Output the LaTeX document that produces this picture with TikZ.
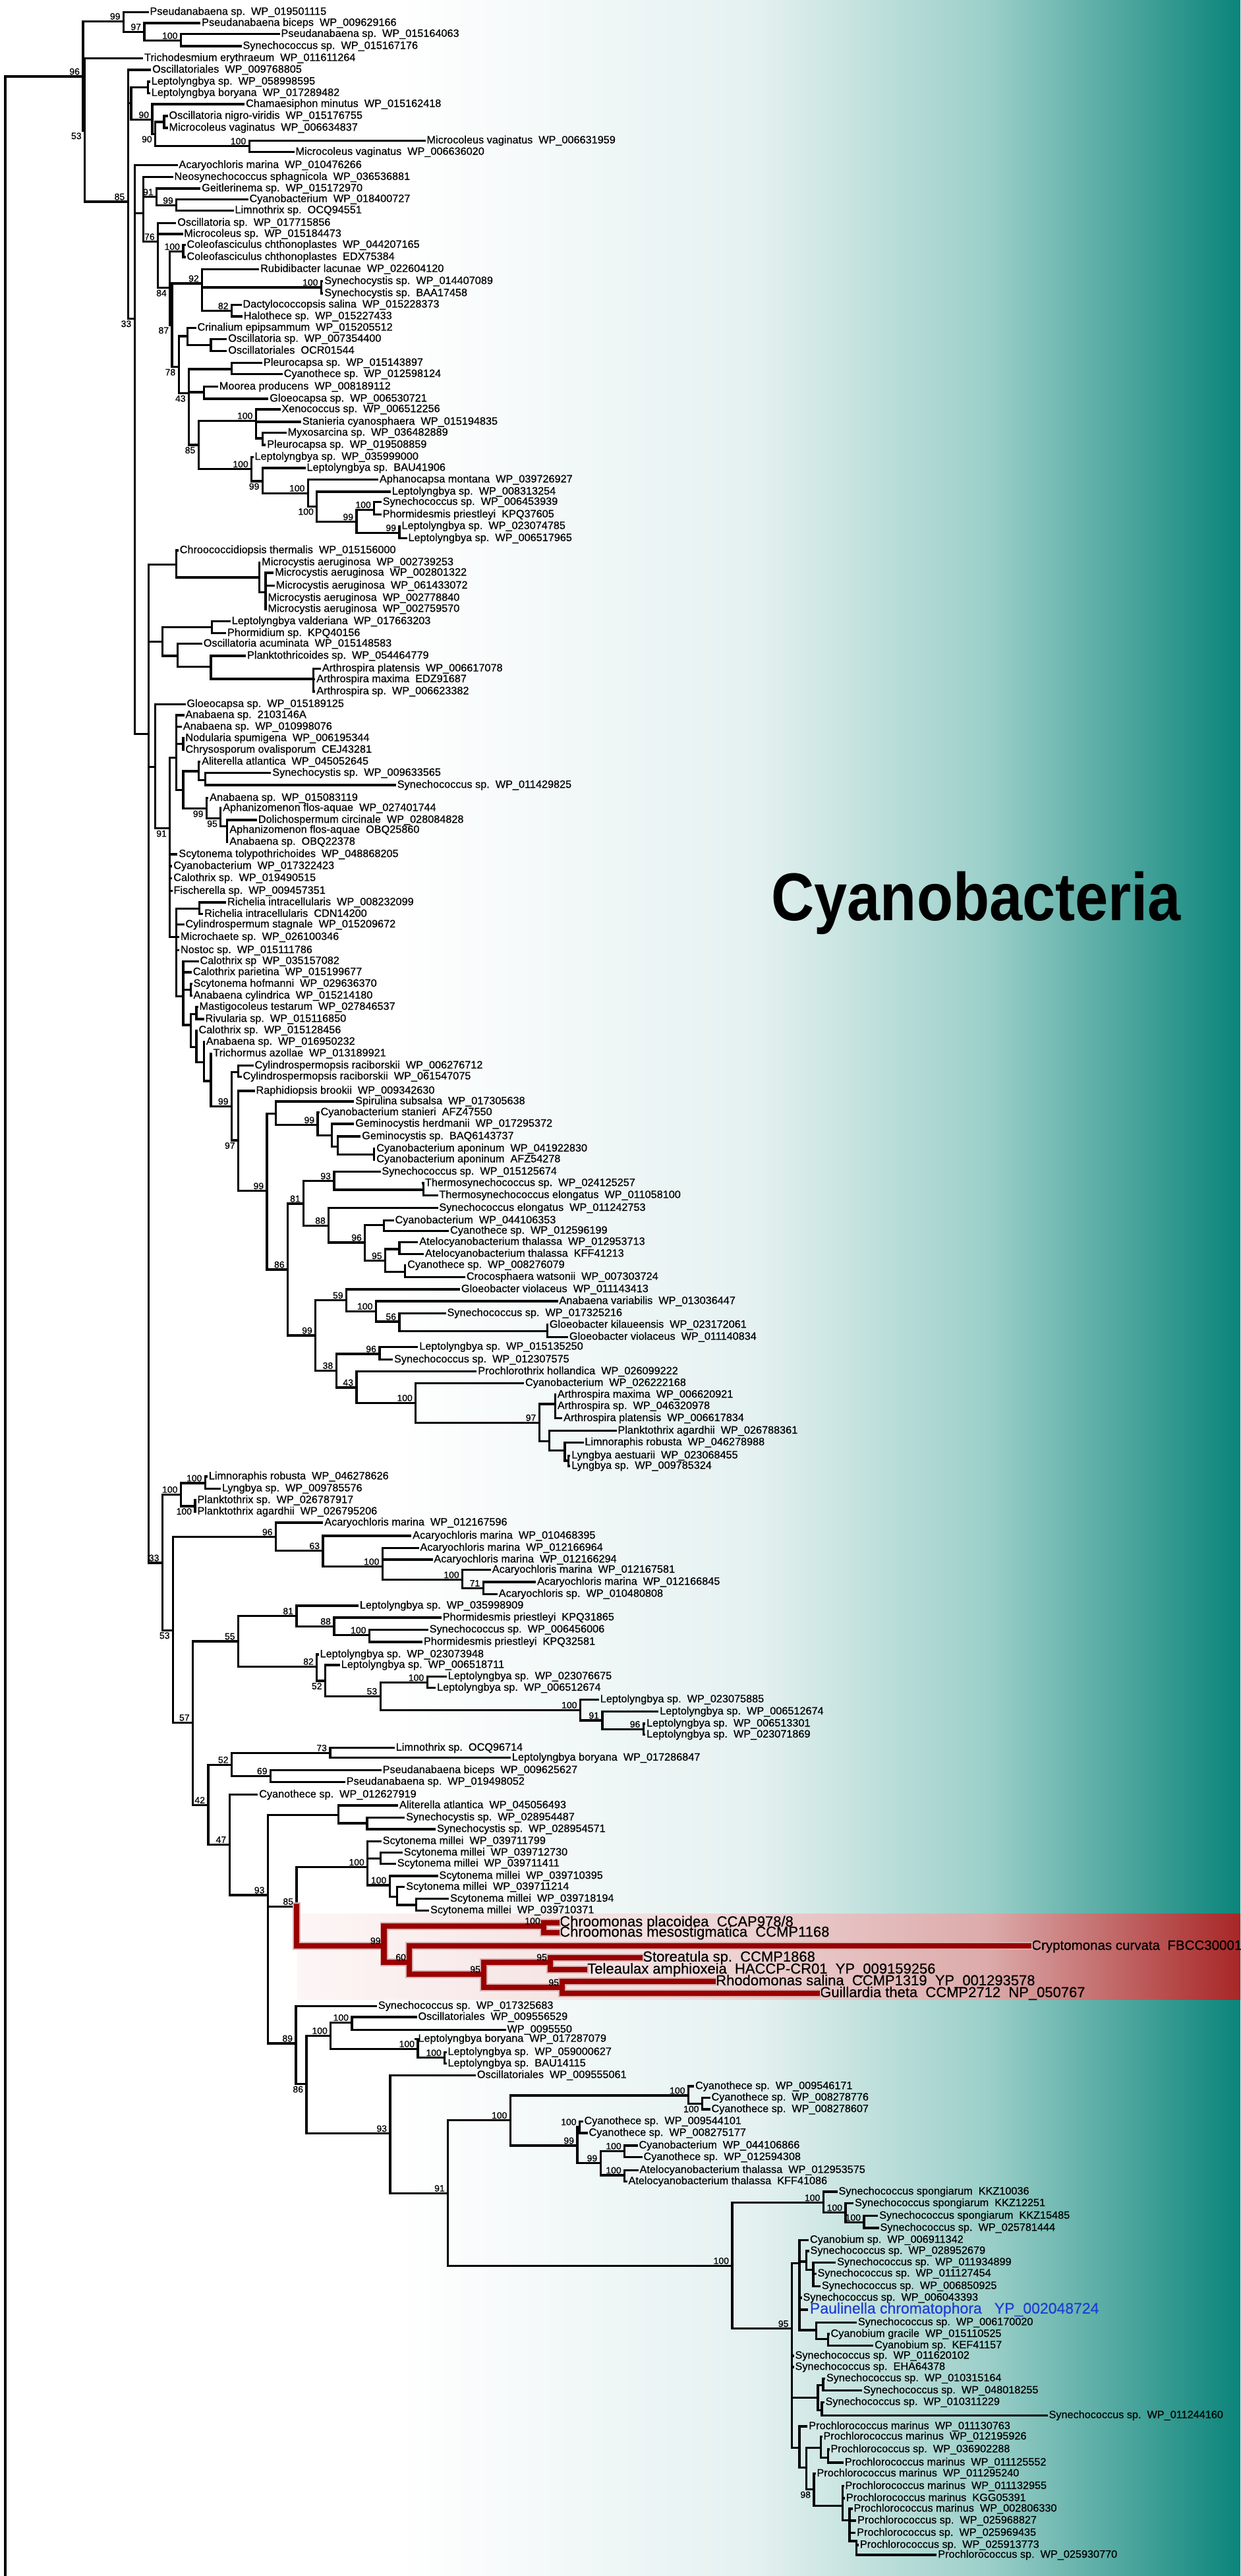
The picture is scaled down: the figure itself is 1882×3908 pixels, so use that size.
\documentclass[tikz,border=0pt]{standalone}
\usepackage{fontspec}
\setmainfont{Liberation Sans}
\newfontfamily\tfont{Liberation Sans}[FakeBold=0.6]
\usepackage{graphicx}
\definecolor{tealA}{HTML}{E4F1F0}
\definecolor{tealB}{HTML}{9BCFC9}
\definecolor{tealC}{HTML}{0B847A}
\definecolor{pinkA}{HTML}{FDF6F6}
\definecolor{pinkB}{HTML}{F3DEDE}
\definecolor{pinkC}{HTML}{DCAAAA}
\definecolor{pinkD}{HTML}{A82626}
\definecolor{cryptred}{HTML}{990000}
\definecolor{redshade}{HTML}{D9B0B0}
\definecolor{paulblue}{HTML}{1E3FD2}
\tikzset{
  br/.style={line width=1.3pt, line cap=rect},
  rbr/.style={line width=3.3pt, color=cryptred, line cap=rect},
  rbrs/.style={line width=4.8pt, color=redshade, line cap=rect},
  leaf/.style={anchor=west, inner xsep=1.2pt, inner ysep=0pt, text height=4.8pt, text depth=1.4pt, font=\tfont\fontsize{6.5}{7}\selectfont},
  bigleaf/.style={anchor=west, inner xsep=1.5pt, inner ysep=0pt, text height=6.6pt, text depth=2pt, font=\tfont\fontsize{8.8}{10}\selectfont},
  bsa/.style={anchor=south east, inner sep=0.5pt, xshift=-1.3pt, yshift=0.3pt, font=\tfont\fontsize{5.6}{6}\selectfont},
  bsb/.style={anchor=north east, inner sep=0.5pt, xshift=-1.3pt, yshift=-0.5pt, font=\tfont\fontsize{5.6}{6}\selectfont}
}
\newcommand{\tleaf}[4]{\coordinate (#1) at (#2,#3);\node[leaf] (t#1) at (#1) {#4};}
\newcommand{\tbig}[5]{\coordinate (#1) at (#2,#3);\node[bigleaf,#5] (t#1) at (#1) {#4};}
\newcommand{\tnode}[3]{\coordinate (#1) at (#2,#3);}
\newcommand{\tkids}[2]{\foreach \kidname in {#2}{\draw[br] (#1) |- (\kidname);}}
\newcommand{\tredkids}[3]{\foreach \kidname in {#2}{\draw[#3] (#1) |- (\kidname);}}
\newcommand{\tbsa}[2]{\node[bsa] (b#1) at (#1) {#2};}
\newcommand{\tbsb}[2]{\node[bsb] (b#1) at (#1) {#2};}
\begin{document}
\begin{tikzpicture}[x=0.4pt,y=-0.4pt]
\useasboundingbox (0,0) rectangle (1882,3908);
% background gradient
\fill[white] (0,0) rectangle (1882,3908);
\shade[left color=white, right color=tealA] (600,0) rectangle (1151,3908);
\shade[left color=tealA, right color=tealB] (1150,0) rectangle (1501,3908);
\shade[left color=tealB, right color=tealC] (1500,0) rectangle (1882,3908);
% red band
\shade[left color=pinkA, right color=pinkB] (451,2903) rectangle (1001,3033);
\shade[left color=pinkB, right color=pinkC] (1000,2903) rectangle (1501,3033);
\shade[left color=pinkC, right color=pinkD] (1500,2903) rectangle (1882,3033);
% title
\node[anchor=base west, inner sep=0pt] (cyano) at (1170,1396) {\scalebox{0.88}[1]{\fontsize{41}{41}\selectfont\bfseries Cyanobacteria}};
% leaves
\tleaf{L1}{224}{18.3}{Pseudanabaena sp.~~WP\_019501115}
\tleaf{L2}{302.7}{35}{Pseudanabaena biceps~~WP\_009629166}
\tleaf{L3}{423}{51.7}{Pseudanabaena sp.~~WP\_015164063}
\tleaf{L4}{365}{70}{Synechococcus sp.~~WP\_015167176}
\tleaf{L5}{215.6}{88.3}{Trichodesmium erythraeum~~WP\_011611264}
\tleaf{L6}{227.7}{106}{Oscillatoriales~~WP\_009768805}
\tleaf{L7}{226.3}{124}{Leptolyngbya sp.~~WP\_058998595}
\tleaf{L8}{226.3}{141.3}{Leptolyngbya boryana~~WP\_017289482}
\tleaf{L9}{369.6}{158}{Chamaesiphon minutus~~WP\_015162418}
\tleaf{L10}{253}{176}{Oscillatoria nigro-viridis~~WP\_015176755}
\tleaf{L11}{253}{194}{Microcoleus vaginatus~~WP\_006634837}
\tleaf{L12}{644}{213.3}{Microcoleus vaginatus~~WP\_006631959}
\tleaf{L13}{445}{230.7}{Microcoleus vaginatus~~WP\_006636020}
\tleaf{L14}{268}{250.7}{Acaryochloris marina~~WP\_010476266}
\tleaf{L15}{261}{268.7}{Neosynechococcus sphagnicola~~WP\_036536881}
\tleaf{L16}{302.7}{286}{Geitlerinema sp.~~WP\_015172970}
\tleaf{L17}{375}{302.3}{Cyanobacterium~~WP\_018400727}
\tleaf{L18}{353}{319.3}{Limnothrix sp.~~OCQ94551}
\tleaf{L19}{265.8}{338.3}{Oscillatoria sp.~~WP\_017715856}
\tleaf{L20}{275.9}{355}{Microcoleus sp.~~WP\_015184473}
\tleaf{L21}{280}{371.7}{Coleofasciculus chthonoplastes~~WP\_044207165}
\tleaf{L22}{280}{390}{Coleofasciculus chthonoplastes~~EDX75384}
\tleaf{L23}{391.7}{408.3}{Rubidibacter lacunae~~WP\_022604120}
\tleaf{L24}{488.8}{426.7}{Synechocystis sp.~~WP\_014407089}
\tleaf{L25}{488.8}{445}{Synechocystis sp.~~BAA17458}
\tleaf{L26}{365}{462.3}{Dactylococcopsis salina~~WP\_015228373}
\tleaf{L27}{366.3}{480}{Halothece sp.~~WP\_015227433}
\tleaf{L28}{296}{497.3}{Crinalium epipsammum~~WP\_015205512}
\tleaf{L29}{342.8}{514.3}{Oscillatoria sp.~~WP\_007354400}
\tleaf{L30}{342.8}{532.3}{Oscillatoriales~~OCR01544}
\tleaf{L31}{396.4}{550.7}{Pleurocapsa sp.~~WP\_015143897}
\tleaf{L32}{427.2}{567.7}{Cyanothece sp.~~WP\_012598124}
\tleaf{L33}{329.4}{586.7}{Moorea producens~~WP\_008189112}
\tleaf{L34}{405.8}{605}{Gloeocapsa sp.~~WP\_006530721}
\tleaf{L35}{423.9}{621}{Xenococcus sp.~~WP\_006512256}
\tleaf{L36}{455.3}{640}{Stanieria cyanosphaera~~WP\_015194835}
\tleaf{L37}{433.2}{656.7}{Myxosarcina sp.~~WP\_036482889}
\tleaf{L38}{401.8}{675}{Pleurocapsa sp.~~WP\_019508859}
\tleaf{L39}{383}{693.3}{Leptolyngbya sp.~~WP\_035999000}
\tleaf{L40}{462}{710}{Leptolyngbya sp.~~BAU41906}
\tleaf{L41}{572.5}{727.7}{Aphanocapsa montana~~WP\_039726927}
\tleaf{L42}{591.3}{746}{Leptolyngbya sp.~~WP\_008313254}
\tleaf{L43}{577.2}{761.7}{Synechococcus sp.~~WP\_006453939}
\tleaf{L44}{577.2}{780.7}{Phormidesmis priestleyi~~KPQ37605}
\tleaf{L45}{606}{798.3}{Leptolyngbya sp.~~WP\_023074785}
\tleaf{L46}{616}{816.7}{Leptolyngbya sp.~~WP\_006517965}
\tleaf{L47}{269.2}{835}{Chroococcidiopsis thermalis~~WP\_015156000}
\tleaf{L48}{393.7}{853.3}{Microcystis aeruginosa~~WP\_002739253}
\tleaf{L49}{413.8}{869}{Microcystis aeruginosa~~WP\_002801322}
\tleaf{L50}{415.2}{888.7}{Microcystis aeruginosa~~WP\_061433072}
\tleaf{L51}{403}{907.3}{Microcystis aeruginosa~~WP\_002778840}
\tleaf{L52}{403}{924}{Microcystis aeruginosa~~WP\_002759570}
\tleaf{L53}{348.2}{942.7}{Leptolyngbya valderiana~~WP\_017663203}
\tleaf{L54}{341.5}{960.7}{Phormidium sp.~~KPQ40156}
\tleaf{L55}{305.3}{976.7}{Oscillatoria acuminata~~WP\_015148583}
\tleaf{L56}{371.6}{995}{Planktothricoides sp.~~WP\_054464779}
\tleaf{L57}{485.4}{1014.3}{Arthrospira platensis~~WP\_006617078}
\tleaf{L58}{476.8}{1030.7}{Arthrospira maxima~~EDZ91687}
\tleaf{L59}{476.8}{1049}{Arthrospira sp.~~WP\_006623382}
\tleaf{L60}{279.9}{1068.3}{Gloeocapsa sp.~~WP\_015189125}
\tleaf{L61}{277.9}{1085}{Anabaena sp.~~2103146A}
\tleaf{L62}{274.5}{1102.7}{Anabaena sp.~~WP\_010998076}
\tleaf{L63}{277.9}{1120}{Nodularia spumigena~~WP\_006195344}
\tleaf{L64}{277.9}{1137.7}{Chrysosporum ovalisporum~~CEJ43281}
\tleaf{L65}{302.7}{1155.7}{Aliterella atlantica~~WP\_045052645}
\tleaf{L66}{409.8}{1172.7}{Synechocystis sp.~~WP\_009633565}
\tleaf{L67}{599.3}{1191}{Synechococcus sp.~~WP\_011429825}
\tleaf{L68}{314.7}{1210.7}{Anabaena sp.~~WP\_015083119}
\tleaf{L69}{334.8}{1226}{Aphanizomenon flos-aquae~~WP\_027401744}
\tleaf{L70}{388.4}{1244}{Dolichospermum circinale~~WP\_028084828}
\tleaf{L71}{344.8}{1259.3}{Aphanizomenon flos-aquae~~OBQ25860}
\tleaf{L72}{344.8}{1277.3}{Anabaena sp.~~OBQ22378}
\tleaf{L73}{267.8}{1296}{Scytonema tolypothrichoides~~WP\_048868205}
\tleaf{L74}{259.8}{1314}{Cyanobacterium~~WP\_017322423}
\tleaf{L75}{259.8}{1332.3}{Calothrix sp.~~WP\_019490515}
\tleaf{L76}{260}{1351.7}{Fischerella sp.~~WP\_009457351}
\tleaf{L77}{341.5}{1369}{Richelia intracellularis~~WP\_008232099}
\tleaf{L78}{306.7}{1386.7}{Richelia intracellularis~~CDN14200}
\tleaf{L79}{277.9}{1402.7}{Cylindrospermum stagnale~~WP\_015209672}
\tleaf{L80}{270.5}{1421.7}{Microchaete sp.~~WP\_026100346}
\tleaf{L81}{270.5}{1441.7}{Nostoc sp.~~WP\_015111786}
\tleaf{L82}{300}{1458.3}{Calothrix sp~~WP\_035157082}
\tleaf{L83}{289.3}{1475}{Calothrix parietina~~WP\_015199677}
\tleaf{L84}{290}{1492.7}{Scytonema hofmanni~~WP\_029636370}
\tleaf{L85}{290}{1510.7}{Anabaena cylindrica~~WP\_015214180}
\tleaf{L86}{299}{1527.7}{Mastigocoleus testarum~~WP\_027846537}
\tleaf{L87}{308}{1546}{Rivularia sp.~~WP\_015116850}
\tleaf{L88}{298}{1563.3}{Calothrix sp.~~WP\_015128456}
\tleaf{L89}{309.3}{1580.7}{Anabaena sp.~~WP\_016950232}
\tleaf{L90}{320}{1598.3}{Trichormus azollae~~WP\_013189921}
\tleaf{L91}{383}{1616.7}{Cylindrospermopsis raciborskii~~WP\_006276712}
\tleaf{L92}{365}{1633.3}{Cylindrospermopsis raciborskii~~WP\_061547075}
\tleaf{L93}{385}{1655}{Raphidiopsis brookii~~WP\_009342630}
\tleaf{L94}{535.7}{1671}{Spirulina subsalsa~~WP\_017305638}
\tleaf{L95}{483}{1687.7}{Cyanobacterium stanieri~~AFZ47550}
\tleaf{L96}{535.7}{1705}{Geminocystis herdmanii~~WP\_017295372}
\tleaf{L97}{545.7}{1724}{Geminocystis sp.~~BAQ6143737}
\tleaf{L98}{567.8}{1742.7}{Cyanobacterium aponinum~~WP\_041922830}
\tleaf{L99}{567.8}{1759}{Cyanobacterium aponinum~~AFZ54278}
\tleaf{L100}{575.9}{1777.7}{Synechococcus sp.~~WP\_015125674}
\tleaf{L101}{641.5}{1795}{Thermosynechococcus sp.~~WP\_024125257}
\tleaf{L102}{662.9}{1813.3}{Thermosynechococcus elongatus~~WP\_011058100}
\tleaf{L103}{662.9}{1832.7}{Synechococcus elongatus~~WP\_011242753}
\tleaf{L104}{596}{1851.7}{Cyanobacterium~~WP\_044106353}
\tleaf{L105}{679.6}{1867.3}{Cyanothece sp.~~WP\_012596199}
\tleaf{L106}{632.8}{1884.3}{Atelocyanobacterium thalassa~~WP\_012953713}
\tleaf{L107}{641.5}{1902.3}{Atelocyanobacterium thalassa~~KFF41213}
\tleaf{L108}{614.7}{1919.3}{Cyanothece sp.~~WP\_008276079}
\tleaf{L109}{704.4}{1937.3}{Crocosphaera watsonii~~WP\_007303724}
\tleaf{L110}{696.4}{1956}{Gloeobacter violaceus~~WP\_011143413}
\tleaf{L111}{845}{1974}{Anabaena variabilis~~WP\_013036447}
\tleaf{L112}{675}{1992.3}{Synechococcus sp.~~WP\_017325216}
\tleaf{L113}{830.3}{2010}{Gloeobacter kilaueensis~~WP\_023172061}
\tleaf{L114}{860.4}{2028.3}{Gloeobacter violaceus~~WP\_011140834}
\tleaf{L115}{632.8}{2043.3}{Leptolyngbya sp.~~WP\_015135250}
\tleaf{L116}{594.6}{2062.7}{Synechococcus sp.~~WP\_012307575}
\tleaf{L117}{721.8}{2080.7}{Prochlorothrix hollandica~~WP\_026099222}
\tleaf{L118}{793.5}{2098.3}{Cyanobacterium~~WP\_026222168}
\tleaf{L119}{842.4}{2116}{Arthrospira maxima~~WP\_006620921}
\tleaf{L120}{842.4}{2133.3}{Arthrospira sp.~~WP\_046320978}
\tleaf{L121}{851.7}{2151.7}{Arthrospira platensis~~WP\_006617834}
\tleaf{L122}{934}{2170.7}{Planktothrix agardhii~~WP\_026788361}
\tleaf{L123}{883.9}{2188.3}{Limnoraphis robusta~~WP\_046278988}
\tleaf{L124}{863.8}{2208.3}{Lyngbya aestuarii~~WP\_023068455}
\tleaf{L125}{863.8}{2224}{Lyngbya sp.~~WP\_009785324}
\tleaf{L126}{313.4}{2240}{Limnoraphis robusta~~WP\_046278626}
\tleaf{L127}{333.5}{2258.3}{Lyngbya sp.~~WP\_009785576}
\tleaf{L128}{296}{2276}{Planktothrix sp.~~WP\_026787917}
\tleaf{L129}{296}{2293.3}{Planktothrix agardhii~~WP\_026795206}
\tleaf{L130}{488.8}{2310}{Acaryochloris marina~~WP\_012167596}
\tleaf{L131}{622.7}{2330}{Acaryochloris marina~~WP\_010468395}
\tleaf{L132}{634}{2348.3}{Acaryochloris marina~~WP\_012166964}
\tleaf{L133}{654.9}{2366}{Acaryochloris marina~~WP\_012166294}
\tleaf{L134}{743.3}{2381.7}{Acaryochloris marina~~WP\_012167581}
\tleaf{L135}{811.6}{2400}{Acaryochloris marina~~WP\_012166845}
\tleaf{L136}{753.3}{2418.3}{Acaryochloris sp.~~WP\_010480808}
\tleaf{L137}{542.4}{2436}{Leptolyngbya sp.~~WP\_035998909}
\tleaf{L138}{668.3}{2454}{Phormidesmis priestleyi~~KPQ31865}
\tleaf{L139}{648.2}{2472.3}{Synechococcus sp.~~WP\_006456006}
\tleaf{L140}{639.5}{2491}{Phormidesmis priestleyi~~KPQ32581}
\tleaf{L141}{482.1}{2510}{Leptolyngbya sp.~~WP\_023073948}
\tleaf{L142}{514.3}{2526}{Leptolyngbya sp.~~WP\_006518711}
\tleaf{L143}{676.3}{2543.3}{Leptolyngbya sp.~~WP\_023076675}
\tleaf{L144}{659.6}{2560.7}{Leptolyngbya sp.~~WP\_006512674}
\tleaf{L145}{907.3}{2578.3}{Leptolyngbya sp.~~WP\_023075885}
\tleaf{L146}{997.7}{2596.7}{Leptolyngbya sp.~~WP\_006512674}
\tleaf{L147}{977.6}{2615}{Leptolyngbya sp.~~WP\_006513301}
\tleaf{L148}{977.6}{2631.7}{Leptolyngbya sp.~~WP\_023071869}
\tleaf{L149}{597.3}{2651.7}{Limnothrix sp.~~OCQ96714}
\tleaf{L150}{773.4}{2666.7}{Leptolyngbya boryana~~WP\_017286847}
\tleaf{L151}{577.2}{2685.7}{Pseudanabaena biceps~~WP\_009625627}
\tleaf{L152}{522.3}{2703.3}{Pseudanabaena sp.~~WP\_019498052}
\tleaf{L153}{389.7}{2722.7}{Cyanothece sp.~~WP\_012627919}
\tleaf{L154}{602.6}{2739}{Aliterella atlantica~~WP\_045056493}
\tleaf{L155}{612.7}{2757.3}{Synechocystis sp.~~WP\_028954487}
\tleaf{L156}{659.6}{2775}{Synechocystis sp.~~WP\_028954571}
\tleaf{L157}{577.2}{2793.3}{Scytonema millei~~WP\_039711799}
\tleaf{L158}{609.3}{2810.7}{Scytonema millei~~WP\_039712730}
\tleaf{L159}{599.3}{2827.3}{Scytonema millei~~WP\_039711411}
\tleaf{L160}{662.9}{2846}{Scytonema millei~~WP\_039710395}
\tleaf{L161}{612.7}{2862.7}{Scytonema millei~~WP\_039711214}
\tleaf{L162}{679.6}{2880.7}{Scytonema millei~~WP\_039718194}
\tleaf{L163}{649.5}{2898.3}{Scytonema millei~~WP\_039710371}
\tbig{L164}{845}{2916.7}{Chroomonas placoidea~~CCAP978/8}{}
\tbig{L165}{845}{2932.3}{Chroomonas mesostigmatica~~CCMP1168}{}
\tbig{L166}{1561}{2952.3}{Cryptomonas curvata~~FBCC30001}{font=\tfont\fontsize{8.2}{10}\selectfont}
\tbig{L167}{971}{2970}{Storeatula sp.~~CCMP1868}{}
\tbig{L168}{887}{2988.3}{Teleaulax amphioxeia~~HACCP-CR01~~YP\_009159256}{}
\tbig{L169}{1082}{3006}{Rhodomonas salina~~CCMP1319~~YP\_001293578}{}
\tbig{L170}{1240}{3024}{Guillardia theta~~CCMP2712~~NP\_050767}{}
\tleaf{L171}{570.4}{3043.3}{Synechococcus sp.~~WP\_017325683}
\tleaf{L172}{631}{3060}{Oscillatoriales~~WP\_009556529}
\tleaf{L173}{766}{3079.3}{WP\_0095550}
\tleaf{L174}{631}{3093.3}{Leptolyngbya boryana~~WP\_017287079}
\tleaf{L175}{676}{3113.3}{Leptolyngbya sp.~~WP\_059000627}
\tleaf{L176}{676}{3130.7}{Leptolyngbya sp.~~BAU14115}
\tleaf{L177}{720.4}{3148.3}{Oscillatoriales~~WP\_009555061}
\tleaf{L178}{1051.5}{3165}{Cyanothece sp.~~WP\_009546171}
\tleaf{L179}{1076}{3182.3}{Cyanothece sp.~~WP\_008278776}
\tleaf{L180}{1076}{3200}{Cyanothece sp.~~WP\_008278607}
\tleaf{L181}{883}{3218.3}{Cyanothece sp.~~WP\_009544101}
\tleaf{L182}{890}{3236}{Cyanothece sp.~~WP\_008275177}
\tleaf{L183}{966}{3255}{Cyanobacterium~~WP\_044106866}
\tleaf{L184}{973}{3272.7}{Cyanothece sp.~~WP\_012594308}
\tleaf{L185}{967}{3292.3}{Atelocyanobacterium thalassa~~WP\_012953575}
\tleaf{L186}{950}{3309.3}{Atelocyanobacterium thalassa~~KFF41086}
\tleaf{L187}{1269}{3325}{Synechococcus spongiarum~~KKZ10036}
\tleaf{L188}{1293.5}{3342.7}{Synechococcus spongiarum~~KKZ12251}
\tleaf{L189}{1330.7}{3361.7}{Synechococcus spongiarum~~KKZ15485}
\tleaf{L190}{1332}{3380}{Synechococcus sp.~~WP\_025781444}
\tleaf{L191}{1225.5}{3398.3}{Cyanobium sp.~~WP\_006911342}
\tleaf{L192}{1226}{3415}{Synechococcus sp.~~WP\_028952679}
\tleaf{L193}{1266.7}{3432.3}{Synechococcus sp.~~WP\_011934899}
\tleaf{L194}{1237}{3449.3}{Synechococcus sp.~~WP\_011127454}
\tleaf{L195}{1243.4}{3468.3}{Synechococcus sp.~~WP\_006850925}
\tleaf{L196}{1215}{3486}{Synechococcus sp.~~WP\_006043393}
\tbig{L197}{1224.7}{3504}{Paulinella chromatophora~~~YP\_002048724}{text=paulblue, font=\tfont\fontsize{9.2}{10}\selectfont}
\tleaf{L198}{1298.4}{3523.3}{Synechococcus sp.~~WP\_006170020}
\tleaf{L199}{1257}{3541}{Cyanobium gracile~~WP\_015110525}
\tleaf{L200}{1323.7}{3558.3}{Cyanobium sp.~~KEF41157}
\tleaf{L201}{1203}{3574}{Synechococcus sp.~~WP\_011620102}
\tleaf{L202}{1203}{3591}{Synechococcus sp.~~EHA64378}
\tleaf{L203}{1250.4}{3608.3}{Synechococcus sp.~~WP\_010315164}
\tleaf{L204}{1306.4}{3626.7}{Synechococcus sp.~~WP\_048018255}
\tleaf{L205}{1249}{3644.3}{Synechococcus sp.~~WP\_010311229}
\tleaf{L206}{1588}{3664.3}{Synechococcus sp.~~WP\_011244160}
\tleaf{L207}{1223.8}{3681}{Prochlorococcus marinus~~WP\_011130763}
\tleaf{L208}{1246}{3696.7}{Prochlorococcus marinus~~WP\_012195926}
\tleaf{L209}{1257}{3716}{Prochlorococcus sp.~~WP\_036902288}
\tleaf{L210}{1278.4}{3736}{Prochlorococcus marinus~~WP\_011125552}
\tleaf{L211}{1236}{3752.7}{Prochlorococcus marinus~~WP\_011295240}
\tleaf{L212}{1279}{3771.7}{Prochlorococcus marinus~~WP\_011132955}
\tleaf{L213}{1280.4}{3790}{Prochlorococcus marinus~~KGG05391}
\tleaf{L214}{1292}{3806}{Prochlorococcus marinus~~WP\_002806330}
\tleaf{L215}{1297.6}{3824}{Prochlorococcus sp.~~WP\_025968827}
\tleaf{L216}{1296.7}{3842.7}{Prochlorococcus sp.~~WP\_025969435}
\tleaf{L217}{1301.4}{3861}{Prochlorococcus sp.~~WP\_025913773}
\tleaf{L218}{1419.8}{3876}{Prochlorococcus sp.~~WP\_025930770}
% internal nodes
\tnode{rootb}{8}{3910}
\tnode{A}{125.9}{116}\tnode{B}{187.5}{32.3}\tnode{D}{219}{48.3}\tnode{E}{274.5}{61.7}
\tnode{C}{128.6}{198.3}\tnode{F}{194.2}{306}\tnode{H}{198.9}{156.7}\tnode{LL}{224.3}{132.7}
\tnode{M}{231}{181.7}\tnode{N}{235.7}{203.3}\tnode{O}{249}{185}\tnode{P}{378.3}{221.7}
\tnode{G}{204.2}{483.3}\tnode{R}{217.6}{323.3}\tnode{R91}{237.7}{298.8}\tnode{R99}{267.8}{311.7}
\tnode{S}{239.7}{366.7}\tnode{T}{257.8}{436.7}\tnode{U}{277.9}{381.7}\tnode{Z}{261.1}{493.3}
\tnode{V}{306.7}{430}\tnode{W100}{487.5}{436}\tnode{X82}{351.5}{471.7}\tnode{Y}{271.2}{556.7}
\tnode{Cri}{284.6}{510}\tnode{Cri2}{320}{523.3}\tnode{W43}{286.6}{596.7}\tnode{Pc}{351.5}{560}
\tnode{Mg}{309.4}{595}\tnode{W85}{301.3}{675}\tnode{Xs}{388.4}{638.3}\tnode{Mx}{398.4}{665}
\tnode{Lp100}{381.7}{711.7}\tnode{Lp99}{398.4}{730}\tnode{Lpb}{467.4}{748.3}\tnode{Lpc}{480.8}{768.3}
\tnode{Lpd}{541}{791.7}\tnode{Lpe}{567.8}{773.3}\tnode{Lpf}{606}{808.3}
\tnode{Q}{225.7}{1113.3}\tnode{Cm}{267.8}{856.7}\tnode{Mc}{393.7}{876}\tnode{Mc2}{403}{898.3}
\tnode{Q2}{246.4}{973.3}\tnode{Lv}{321.4}{951.7}\tnode{Oa}{269.2}{995}\tnode{Pl}{320}{1011.7}\tnode{Ar}{475.4}{1030}
\tnode{Q3}{235.7}{1163.3}\tnode{Q91}{257.8}{1256.7}\tnode{Nb}{267.8}{1149.3}\tnode{NC}{277.9}{1128.3}
\tnode{Nd}{277.9}{1198.3}\tnode{Al}{301.3}{1170}\tnode{Al2}{311.4}{1183.3}\tnode{An99}{313.4}{1226.7}
\tnode{An95}{334.8}{1241.7}\tnode{An3}{344.8}{1253.3}
\tnode{Nf}{267.8}{1421.7}\tnode{Ri}{302.7}{1378.3}\tnode{Ng}{277.9}{1511.7}\tnode{Sh}{289.3}{1501.7}
\tnode{Nh}{289.3}{1555}\tnode{Ms}{298}{1538.3}\tnode{Ni}{298}{1588.3}\tnode{Nj}{309.3}{1611.7}
\tnode{Nk}{320}{1640}\tnode{Nl}{351.5}{1678.3}\tnode{Cyl}{361.6}{1626.7}\tnode{N97}{361.6}{1730}
\tnode{N99b}{405.1}{1806.7}\tnode{Sp}{418.5}{1689.3}\tnode{Cs99}{482.1}{1706.7}\tnode{Gm}{503.5}{1722.7}
\tnode{Gm2}{512.2}{1739.3}\tnode{Ca}{567.8}{1751.7}
\tnode{N86b}{436.6}{1926}\tnode{N81}{460.7}{1826}\tnode{N93b}{506.9}{1791.7}\tnode{Th}{642.8}{1805}
\tnode{N88}{498.8}{1859.3}\tnode{N96}{553.8}{1885}\tnode{Cy}{582.6}{1858.3}\tnode{N95b}{584.6}{1912.7}
\tnode{At}{606}{1895}\tnode{Cw}{614.7}{1929.3}
\tnode{N99c}{478.8}{2026}\tnode{Gl59}{525.6}{1972.7}\tnode{Gl100}{570.5}{1989.3}\tnode{Gl56}{606}{2005}
\tnode{Gk}{830.3}{2019.3}\tnode{N38}{510.2}{2079.3}\tnode{Lp96b}{575.9}{2054}\tnode{N43}{541}{2105}
\tnode{N100h}{630.8}{2128.3}\tnode{N97b}{818.3}{2158.3}\tnode{Ar2}{842.4}{2130}\tnode{Pk}{833.6}{2186.7}
\tnode{Ly}{857.1}{2200.7}\tnode{Ly2}{862.4}{2216}
\tnode{Q33}{246.4}{2371}\tnode{Lr100}{274.5}{2267.3}\tnode{Lr100a}{311.4}{2250}\tnode{Lr100b}{296}{2285}
\tnode{Q53}{262.5}{2473.3}\tnode{Ac96}{418.5}{2331.7}\tnode{Ac63}{490}{2352.7}\tnode{Ac100}{580.5}{2376.7}
\tnode{Ac100b}{701.7}{2396.7}\tnode{Ac71}{733.2}{2409.3}
\tnode{Q57}{292.6}{2613.3}\tnode{Lp55}{361.6}{2490}\tnode{Lp81}{450}{2451.7}\tnode{Lp88}{506.9}{2467.3}
\tnode{Lq100}{560.5}{2480.7}\tnode{Lp82}{480.8}{2528.3}\tnode{Lp52}{493.5}{2550}\tnode{Lp53}{577.2}{2573.3}
\tnode{Lp100e}{648.2}{2552.7}\tnode{Lp100f}{880.5}{2594.3}\tnode{Lp91}{914}{2610}\tnode{Lp96}{976.3}{2623.3}
\tnode{Q42}{316}{2738.3}\tnode{Q52}{351.5}{2677.3}\tnode{Lm73}{500.9}{2659.3}\tnode{Ps69}{410.5}{2694.3}
\tnode{Q47}{348.2}{2798.3}\tnode{Q93}{406.4}{2875}\tnode{As}{513.6}{2753.3}\tnode{As2}{557.1}{2766}
\tnode{K85}{450}{2892.3}\tnode{Scy}{557.8}{2832.7}\tnode{Sc2}{577.2}{2819.3}\tnode{Sc100}{591.3}{2860}
\tnode{Sc3}{602.6}{2877.3}\tnode{Sc4}{631.4}{2890}
\tnode{Red99}{582.5}{2951.7}\tnode{Chr}{824.7}{2921.7}\tnode{Red60}{620.9}{2976.7}\tnode{Red95a}{733.9}{2995}
\tnode{Red95b}{834.8}{2976.7}\tnode{Red95c}{853}{3015}
\tnode{N89}{449}{3100}\tnode{N86}{465}{3161.7}\tnode{N100a}{501.8}{3088.3}\tnode{N100b}{534}{3068.3}
\tnode{N100c}{634}{3108.3}\tnode{N100d}{674.8}{3121.7}\tnode{N93}{592}{3236.7}\tnode{N91}{679.7}{3327.3}
\tnode{NC100}{774.4}{3216.7}\tnode{NC100a}{1044.5}{3179}\tnode{NC100b}{1065.5}{3191.7}\tnode{NC99}{876}{3255}
\tnode{NC100e}{879.6}{3226.7}\tnode{NC99b}{911.2}{3281.7}\tnode{NC100f}{947.7}{3263.3}\tnode{NC100g}{947.7}{3300}
\tnode{NB100}{1111}{3437.3}\tnode{NSp}{1249.3}{3341.7}\tnode{NSpb}{1283}{3356.7}\tnode{NSpc}{1311}{3371.7}
\tnode{S95}{1201.4}{3532.7}\tnode{S95a}{1213}{3433.3}\tnode{S95b}{1223.8}{3431}\tnode{S95d}{1234}{3443.3}
\tnode{S95c}{1238.7}{3535}\tnode{S95e}{1256.4}{3548.3}\tnode{S95f}{1241}{3637.3}\tnode{S95h}{1249}{3618.3}
\tnode{S95i}{1247}{3656.7}\tnode{S95g}{1213}{3713.3}\tnode{NP1}{1223.8}{3743.3}\tnode{NP2}{1245.7}{3713.3}
\tnode{NP3}{1256.4}{3728.3}\tnode{N98}{1235}{3776.7}\tnode{NP4}{1278.4}{3801.7}\tnode{NP5}{1289}{3823.3}
\tnode{NP6}{1299.4}{3855}
% branches
\draw[br] (rootb) |- (A);
\tkids{A}{B,C}\tkids{B}{L1,D}\tkids{D}{L2,E}\tkids{E}{L3,L4}
\tkids{C}{L5,F}\tkids{F}{L6,H,G}\tkids{H}{LL,M}\tkids{LL}{L7,L8}
\tkids{M}{L9,N}\tkids{N}{O,P}\tkids{O}{L10,L11}\tkids{P}{L12,L13}
\tkids{G}{L14,R,Q}\tkids{R}{L15,R91,S}\tkids{R91}{L16,R99}\tkids{R99}{L17,L18}
\tkids{S}{L19,L20,T}\tkids{T}{U,Z}\tkids{U}{L21,L22}\tkids{Z}{V,Y}
\tkids{V}{L23,W100,X82}\tkids{W100}{L24,L25}\tkids{X82}{L26,L27}\tkids{Y}{Cri,W43}
\tkids{Cri}{L28,Cri2}\tkids{Cri2}{L29,L30}\tkids{W43}{Pc,Mg,W85}\tkids{Pc}{L31,L32}
\tkids{Mg}{L33,L34}\tkids{W85}{Xs,Lp100}\tkids{Xs}{L35,L36,Mx}\tkids{Mx}{L37,L38}
\tkids{Lp100}{L39,Lp99}\tkids{Lp99}{L40,Lpb}\tkids{Lpb}{L41,Lpc}\tkids{Lpc}{L42,Lpd}
\tkids{Lpd}{Lpe,Lpf}\tkids{Lpe}{L43,L44}\tkids{Lpf}{L45,L46}
\tkids{Q}{Cm,Q2,Q3,Q33}\tkids{Cm}{L47,Mc}\tkids{Mc}{L48,Mc2}\tkids{Mc2}{L49,L50,L51,L52}
\tkids{Q2}{Lv,Oa}\tkids{Lv}{L53,L54}\tkids{Oa}{L55,Pl}\tkids{Pl}{L56,Ar}\tkids{Ar}{L57,L58,L59}
\tkids{Q3}{L60,Q91}\tkids{Q91}{Nb,L73,L74,L75,L76,Nf}\tkids{Nb}{L61,L62,NC,Nd}\tkids{NC}{L63,L64}
\tkids{Nd}{Al,An99}\tkids{Al}{L65,Al2}\tkids{Al2}{L66,L67}\tkids{An99}{L68,An95}
\tkids{An95}{L69,An3}\tkids{An3}{L70,L71,L72}
\tkids{Nf}{Ri,L79,L80,L81,Ng}\tkids{Ri}{L77,L78}\tkids{Ng}{L82,L83,Sh,Nh}\tkids{Sh}{L84,L85}
\tkids{Nh}{Ms,Ni}\tkids{Ms}{L86,L87}\tkids{Ni}{L88,Nj}\tkids{Nj}{L89,Nk}\tkids{Nk}{L90,Nl}
\tkids{Nl}{Cyl,N97}\tkids{Cyl}{L91,L92}\tkids{N97}{L93,N99b}\tkids{N99b}{Sp,N86b}
\tkids{Sp}{L94,Cs99}\tkids{Cs99}{L95,Gm}\tkids{Gm}{L96,Gm2}\tkids{Gm2}{L97,Ca}\tkids{Ca}{L98,L99}
\tkids{N86b}{N81,N99c}\tkids{N81}{N93b,N88}\tkids{N93b}{L100,Th}\tkids{Th}{L101,L102}
\tkids{N88}{L103,N96}\tkids{N96}{Cy,N95b}\tkids{Cy}{L104,L105}\tkids{N95b}{At,Cw}
\tkids{At}{L106,L107}\tkids{Cw}{L108,L109}
\tkids{N99c}{Gl59,N38}\tkids{Gl59}{L110,Gl100}\tkids{Gl100}{L111,Gl56}\tkids{Gl56}{L112,Gk}
\tkids{Gk}{L113,L114}\tkids{N38}{Lp96b,N43}\tkids{Lp96b}{L115,L116}\tkids{N43}{L117,N100h}
\tkids{N100h}{L118,N97b}\tkids{N97b}{Ar2,Pk}\tkids{Ar2}{L119,L120,L121}\tkids{Pk}{L122,Ly}
\tkids{Ly}{L123,Ly2}\tkids{Ly2}{L124,L125}
\tkids{Q33}{Lr100,Q53}\tkids{Lr100}{Lr100a,Lr100b}\tkids{Lr100a}{L126,L127}\tkids{Lr100b}{L128,L129}
\tkids{Q53}{Ac96,Q57}\tkids{Ac96}{L130,Ac63}\tkids{Ac63}{L131,Ac100}\tkids{Ac100}{L132,L133,Ac100b}
\tkids{Ac100b}{L134,Ac71}\tkids{Ac71}{L135,L136}
\tkids{Q57}{Lp55,Q42}\tkids{Lp55}{Lp81,Lp82}\tkids{Lp81}{L137,Lp88}\tkids{Lp88}{L138,Lq100}
\tkids{Lq100}{L139,L140}\tkids{Lp82}{L141,Lp52}\tkids{Lp52}{L142,Lp53}\tkids{Lp53}{Lp100e,Lp100f}
\tkids{Lp100e}{L143,L144}\tkids{Lp100f}{L145,Lp91}\tkids{Lp91}{L146,Lp96}\tkids{Lp96}{L147,L148}
\tkids{Q42}{Q52,Q47}\tkids{Q52}{Lm73,Ps69}\tkids{Lm73}{L149,L150}\tkids{Ps69}{L151,L152}
\tkids{Q47}{L153,Q93}\tkids{Q93}{As,K85,N89}\tkids{As}{L154,As2}\tkids{As2}{L155,L156}
\tkids{K85}{Scy}\tkids{Scy}{L157,Sc2,Sc100}\tkids{Sc2}{L158,L159}\tkids{Sc100}{L160,Sc3}
\tkids{Sc3}{L161,Sc4}\tkids{Sc4}{L162,L163}
% cryptophyte (red) clade: shadow then red
\foreach \rs in {rbrs,rbr}{
  \tredkids{K85}{Red99}{\rs}
  \tredkids{Red99}{Chr,Red60}{\rs}
  \tredkids{Chr}{L164,L165}{\rs}
  \tredkids{Red60}{L166,Red95a}{\rs}
  \tredkids{Red95a}{Red95b,Red95c}{\rs}
  \tredkids{Red95b}{L167,L168}{\rs}
  \tredkids{Red95c}{L169,L170}{\rs}
}
\tkids{N89}{L171,N86}\tkids{N86}{N100a,N93}\tkids{N100a}{N100b,N100c}\tkids{N100b}{L172,L173}
\tkids{N100c}{L174,N100d}\tkids{N100d}{L175,L176}\tkids{N93}{L177,N91}\tkids{N91}{NC100,NB100}
\tkids{NC100}{NC100a,NC99}\tkids{NC100a}{L178,NC100b}\tkids{NC100b}{L179,L180}
\tkids{NC99}{NC100e,NC99b}\tkids{NC100e}{L181,L182}\tkids{NC99b}{NC100f,NC100g}
\tkids{NC100f}{L183,L184}\tkids{NC100g}{L185,L186}
\tkids{NB100}{NSp,S95}\tkids{NSp}{L187,NSpb}\tkids{NSpb}{L188,NSpc}\tkids{NSpc}{L189,L190}
\tkids{S95}{S95a,L201,L202,S95f,S95g}\tkids{S95a}{L191,S95b,L196,L197,S95c}
\tkids{S95b}{L192,S95d}\tkids{S95d}{L193,L194,L195}\tkids{S95c}{L198,S95e}\tkids{S95e}{L199,L200}
\tkids{S95f}{S95h,S95i}\tkids{S95h}{L203,L204}\tkids{S95i}{L205,L206}
\tkids{S95g}{L207,NP1}\tkids{NP1}{NP2,N98}\tkids{NP2}{L208,NP3}\tkids{NP3}{L209,L210}
\tkids{N98}{L211,NP4}\tkids{NP4}{L212,L213,NP5}\tkids{NP5}{L214,L215,L216,NP6}\tkids{NP6}{L217,L218}
% bootstrap values
\tbsa{A}{96}\tbsa{B}{99}\tbsa{D}{97}\tbsa{E}{100}\tbsb{C}{53}\tbsa{F}{85}\tbsa{M}{90}\tbsb{N}{90}
\tbsa{P}{100}\tbsb{G}{33}\tbsa{R91}{91}\tbsa{R99}{99}\tbsa{S}{76}\tbsb{T}{84}\tbsa{U}{100}\tbsb{Z}{87}
\tbsa{V}{92}\tbsa{W100}{100}\tbsa{X82}{82}\tbsb{Y}{78}\tbsb{W43}{43}\tbsb{W85}{85}\tbsa{Xs}{100}
\tbsa{Lp100}{100}\tbsb{Lp99}{99}\tbsa{Lpb}{100}\tbsb{Lpc}{100}\tbsa{Lpd}{99}\tbsa{Lpe}{100}\tbsa{Lpf}{99}
\tbsb{Q91}{91}\tbsb{An99}{99}\tbsb{An95}{95}
\tbsa{Nl}{99}\tbsa{Cs99}{99}\tbsb{N97}{97}\tbsa{N93b}{93}\tbsa{N99b}{99}\tbsa{N81}{81}\tbsa{N88}{88}
\tbsa{N96}{96}\tbsa{N95b}{95}\tbsa{N86b}{86}\tbsa{Gl59}{59}
\tbsa{Gl100}{100}\tbsa{Gl56}{56}\tbsa{N99c}{99}\tbsa{Lp96b}{96}\tbsa{N38}{38}\tbsa{N43}{43}
\tbsa{N100h}{100}\tbsa{N97b}{97}\tbsa{Lr100}{100}\tbsa{Lr100a}{100}\tbsb{Lr100b}{100}
\tbsa{Ac96}{96}\tbsa{Ac63}{63}\tbsa{Ac100}{100}\tbsa{Ac100b}{100}\tbsa{Ac71}{71}\tbsa{Q33}{33}
\tbsa{Lp81}{81}\tbsa{Lp88}{88}\tbsa{Lq100}{100}\tbsb{Q53}{53}\tbsa{Lp55}{55}\tbsa{Lp82}{82}
\tbsb{Lp52}{52}\tbsa{Lp53}{53}\tbsa{Lp100e}{100}\tbsa{Lp100f}{100}\tbsa{Lp91}{91}\tbsa{Lp96}{96}\tbsa{Q57}{57}
\tbsa{Lm73}{73}\tbsa{Q52}{52}\tbsa{Ps69}{69}\tbsa{Q42}{42}\tbsa{Q47}{47}\tbsa{Q93}{93}\tbsa{K85}{85}
\tbsa{Scy}{100}\tbsa{Sc100}{100}
\tbsa{Red99}{99}\tbsa{Chr}{100}\tbsa{Red60}{60}\tbsa{Red95a}{95}\tbsa{Red95b}{95}\tbsa{Red95c}{95}
\tbsa{N89}{89}\tbsb{N86}{86}\tbsa{N100a}{100}\tbsa{N100b}{100}\tbsa{N100c}{100}\tbsa{N100d}{100}
\tbsa{N93}{93}\tbsa{N91}{91}\tbsa{NC100}{100}\tbsa{NC100a}{100}\tbsb{NC100b}{100}\tbsa{NC99}{99}
\tbsa{NC100e}{100}\tbsa{NC99b}{99}\tbsa{NC100f}{100}\tbsa{NC100g}{100}\tbsa{NB100}{100}
\tbsa{NSp}{100}\tbsa{NSpb}{100}\tbsa{NSpc}{100}\tbsa{S95}{95}\tbsb{N98}{98}
\end{tikzpicture}
\end{document}
